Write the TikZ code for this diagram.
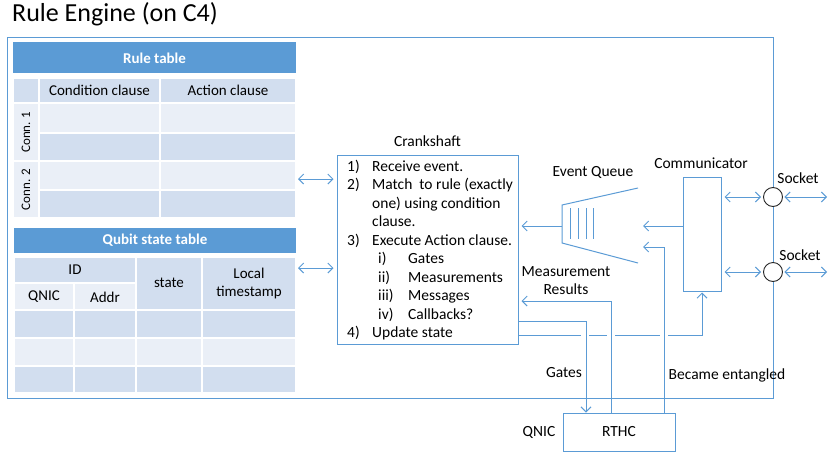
\documentclass[tikz,border=0pt]{standalone}
\usepackage{fontspec}
\setmainfont{Carlito}
\usetikzlibrary{arrows.meta}
\definecolor{acc}{HTML}{5B9BD5}
\definecolor{dk}{HTML}{D2DEEF}
\definecolor{lt}{HTML}{EAEFF7}
\begin{document}
\begin{tikzpicture}[x=1pt,y=-1pt,
  font=\fontsize{15.5}{18}\selectfont,
  ln/.style={draw=acc,line width=1pt},
  arr/.style={ln,-{Straight Barb[length=5pt,width=10pt]}},
  darr/.style={ln,{Straight Barb[length=5pt,width=10pt]}-{Straight Barb[length=5pt,width=10pt]}},
  cell/.style={draw=white,line width=1.2pt},
  box/.style={draw=acc,line width=1pt,inner sep=0pt},
  tx/.style={font=\fontsize{15}{18}\selectfont},
  hd/.style={text=white,font=\fontsize{15}{18}\selectfont\bfseries}]
\useasboundingbox (0,0) rectangle (831,453);

% title
\node[anchor=base west,inner sep=0pt,font=\fontsize{26}{30}\selectfont] (title) at (12,21) {Rule Engine (on C4)};

% outer box
\draw[ln] (7,37) rectangle (773,398);

% ---- Rule table ----
\path[fill=acc] (13,42) rectangle (296,73);
\node[hd] (rthead) at (154.5,58) {Rule table};
\path[cell,fill=dk] (13,78) rectangle (39,103);
\path[cell,fill=dk] (39,78) rectangle (160,103);
\path[cell,fill=dk] (160,78) rectangle (296,103);
\path[cell,fill=lt] (13,103) rectangle (39,161);
\path[cell,fill=lt] (13,161) rectangle (39,218);
\path[cell,fill=lt] (39,103) rectangle (160,133);
\path[cell,fill=lt] (160,103) rectangle (296,133);
\path[cell,fill=dk] (39,133) rectangle (160,161);
\path[cell,fill=dk] (160,133) rectangle (296,161);
\path[cell,fill=lt] (39,161) rectangle (160,190);
\path[cell,fill=lt] (160,161) rectangle (296,190);
\path[cell,fill=dk] (39,190) rectangle (160,218);
\path[cell,fill=dk] (160,190) rectangle (296,218);
\node[tx] (cc) at (99.5,90.5) {Condition clause};
\node[tx] (ac) at (228,90.5) {Action clause};
\node[rotate=90,font=\fontsize{13}{16}\selectfont] (cn1) at (26,132) {Conn. 1};
\node[rotate=90,font=\fontsize{13}{16}\selectfont] (cn2) at (26,189.5) {Conn. 2};

% ---- Qubit state table ----
\path[fill=acc] (14,228) rectangle (296,253);
\node[hd] (qthead) at (155,240.5) {Qubit state table};
\path[cell,fill=dk] (14,257) rectangle (136,283);
\path[cell,fill=lt] (14,283) rectangle (74,310);
\path[cell,fill=lt] (74,283) rectangle (136,310);
\path[cell,fill=dk] (136,257) rectangle (202,310);
\path[cell,fill=dk] (202,257) rectangle (296,310);
\foreach \ya/\yb/\c in {310/338/dk,338/366/lt,366/393/dk}{
  \path[cell,fill=\c] (14,\ya) rectangle (74,\yb);
  \path[cell,fill=\c] (74,\ya) rectangle (136,\yb);
  \path[cell,fill=\c] (136,\ya) rectangle (202,\yb);
  \path[cell,fill=\c] (202,\ya) rectangle (296,\yb);
}
\node[tx] (qid) at (75,269.5) {ID};
\node[tx] (qqnic) at (44,297) {QNIC};
\node[tx] (qaddr) at (105,297) {Addr};
\node[tx] (qstate) at (169,283) {state};
\node[tx,align=center] (qlocal) at (249,283) {Local\\timestamp};

% ---- Crankshaft ----
\node[box,minimum width=181pt,minimum height=189pt] (crank) at (427.5,249.5) {};
\node (lcrank) at (427.5,141) {Crankshaft};
\node[anchor=north west,inner sep=0pt,align=left,font=\fontsize{15.5}{18.5}\selectfont] (clist) at (347,158) {%
\strut\makebox[25pt][l]{1)}Receive event.\\
\makebox[25pt][l]{2)}Match\ \ to rule (exactly\\
\hspace*{25pt}one) using condition\\
\hspace*{25pt}clause.\\
\makebox[25pt][l]{3)}Execute Action clause.\\
\hspace*{31pt}\makebox[30pt][l]{i)}Gates\\
\hspace*{31pt}\makebox[30pt][l]{ii)}Measurements\\
\hspace*{31pt}\makebox[30pt][l]{iii)}Messages\\
\hspace*{31pt}\makebox[30pt][l]{iv)}Callbacks?\\
\makebox[25pt][l]{4)}Update state};

% table <-> crankshaft
\coordinate (rtE) at (298,179);
\coordinate (qtE) at (298,268);
\draw[darr,shorten >=3pt] (rtE) -- (rtE -| crank.west);
\draw[darr,shorten >=3pt] (qtE) -- (qtE -| crank.west);

% ---- Event queue ----
\draw[ln] (638,188) -- (562,205) -- (562,243) -- (638,263);
\foreach \x in {570,578,586,593} \draw[ln] (\x,208) -- (\x,239);
\node (leq) at (593,172) {Event Queue};
\coordinate (eqL) at (562,226);
\coordinate (eqR) at (643,226);
\coordinate (eqR2) at (643,247);
\draw[arr,shorten >=3pt] (eqL) -- (eqL -| crank.east);

% ---- Communicator ----
\node[box,minimum width=38pt,minimum height=114pt] (comm) at (702,234) {};
\node (lcomm) at (701,163) {Communicator};
\draw[arr] (comm.west |- eqR) -- (eqR);

% ---- Sockets ----
\node[circle,draw=black!85,fill=white,line width=0.9pt,minimum size=19pt,inner sep=0pt] (s1) at (773,197) {};
\node[circle,draw=black!85,fill=white,line width=0.9pt,minimum size=19pt,inner sep=0pt] (s2) at (773,272) {};
\node (ls1) at (798,178) {Socket};
\node (ls2) at (800,255) {Socket};
\draw[darr,shorten <=3pt,shorten >=2pt] (comm.east |- s1) -- (s1.west);
\draw[darr,shorten <=3pt,shorten >=2pt] (comm.east |- s2) -- (s2.west);
\coordinate (o1) at (827,197);
\coordinate (o2) at (827,272);
\draw[darr,shorten <=1.5pt] (s1.east) -- (o1);
\draw[darr,shorten <=1.5pt] (s2.east) -- (o2);

% ---- RTHC ----
\node[box,minimum width=112pt,minimum height=38pt] (rthc) at (619,432) {RTHC};
\node (lqnic) at (539,432) {QNIC};

% crankshaft -> communicator (with crossing gaps)
\coordinate (c1) at (702,335);
\draw[arr,shorten >=1pt] (crank.east |- c1) -- (c1) -- (c1 |- comm.south);
\foreach \x in {585,611,664} \draw[white,line width=3pt] (\x-4,335) -- (\x+4,335);

% gates
\coordinate (g1) at (586,321);
\draw[arr] (crank.east |- g1) -- (g1) -- (g1 |- rthc.north);
\node (lgates) at (564,373) {Gates};

% measurement results
\coordinate (m1) at (611,301);
\draw[arr,shorten >=3pt] (m1 |- rthc.north) -- (m1) -- (m1 -| crank.east);
\node[align=center] (lmeas) at (566,281) {Measurement\\Results};

% became entangled
\coordinate (e1) at (664,247);
\draw[arr] (e1 |- rthc.north) -- (e1) -- (eqR2);
\node (lent) at (727,375) {Became entangled};
\end{tikzpicture}
\end{document}
